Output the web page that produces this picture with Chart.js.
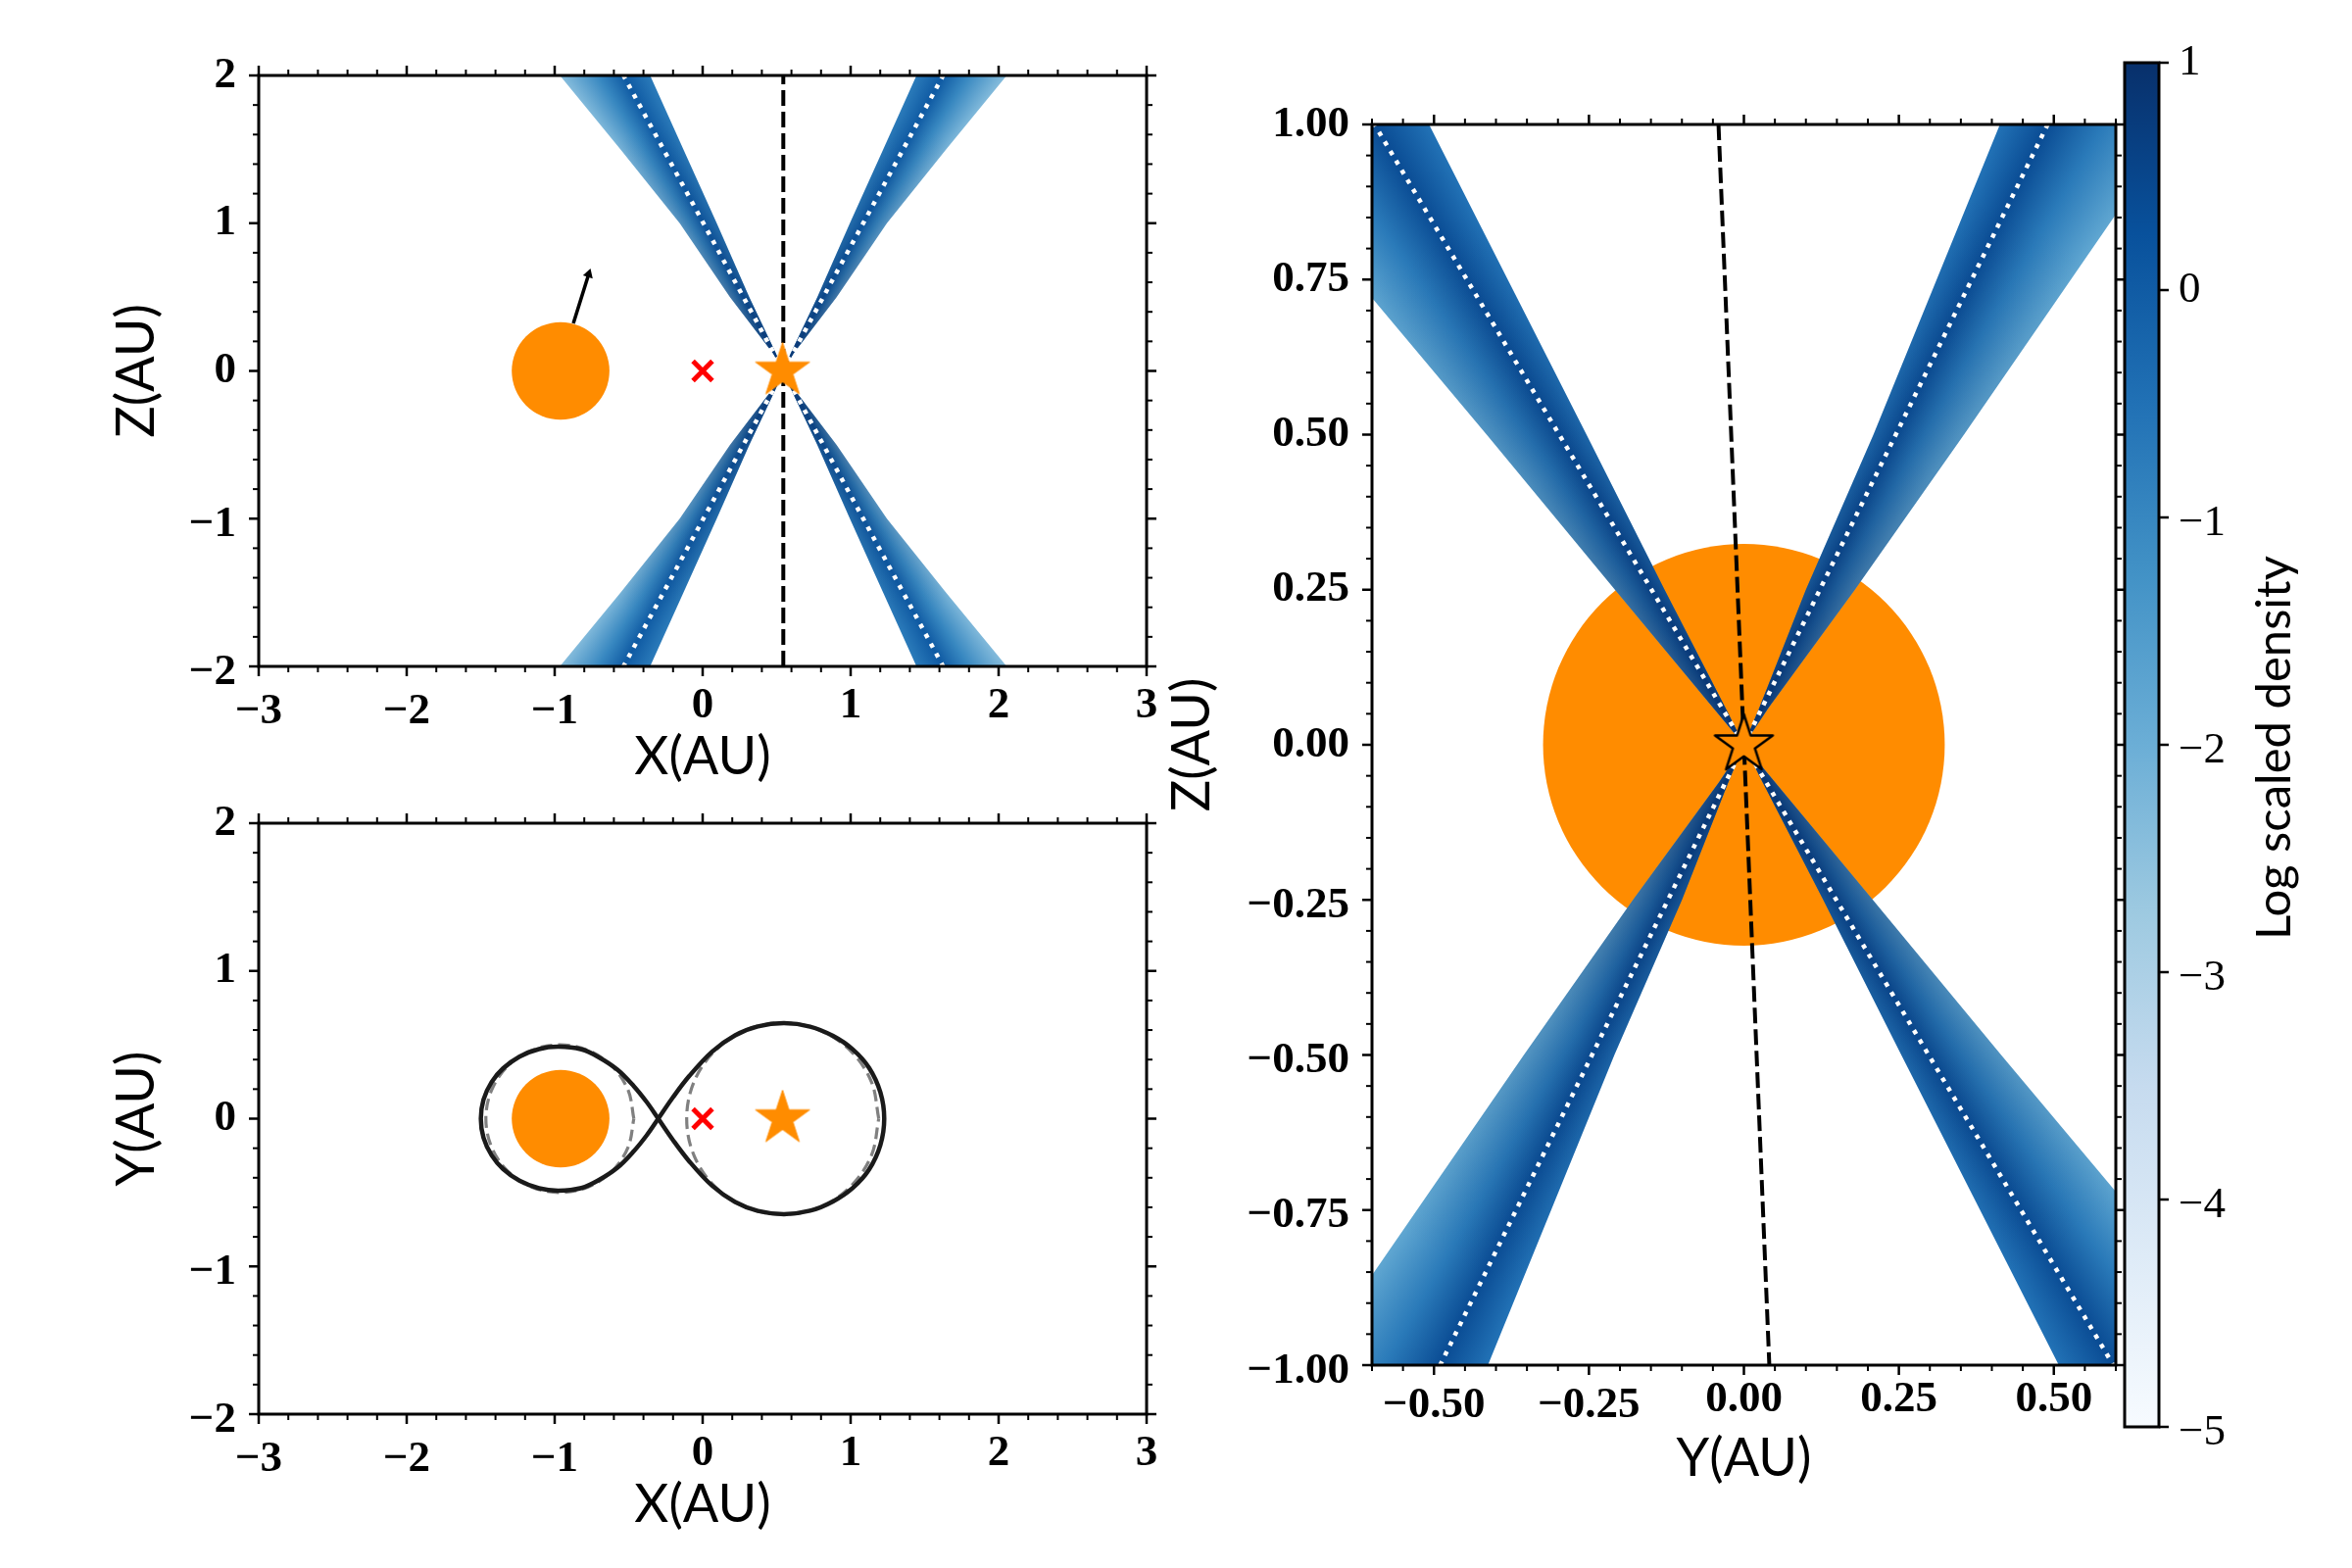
<!DOCTYPE html>
<html>
<head>
<meta charset="utf-8">
<title>Density panels</title>
<script src="https://cdn.jsdelivr.net/npm/chart.js@4"></script>
<style>
  body { margin: 0; background: #fff; }
  canvas { position: absolute; }
</style>
</head>
<body>
<canvas id="panel-xz"></canvas>
<canvas id="panel-xy"></canvas>
<canvas id="panel-yz"></canvas>
<canvas id="colorbar"></canvas>
<script>
// Tick values and labels
const sideXTicks = [-3, -2, -1, 0, 1, 2, 3];
const sideXLabels = ['−3', '−2', '−1', '0', '1', '2', '3'];
const sideYTicks = [-2, -1, 0, 1, 2];
const sideYLabels = ['−2', '−1', '0', '1', '2'];
const yzXTicks = [-0.5, -0.25, 0, 0.25, 0.5];
const yzXLabels = ['−0.50', '−0.25', '0.00', '0.25', '0.50'];
const yzYTicks = [-1, -0.75, -0.5, -0.25, 0, 0.25, 0.5, 0.75, 1];
const yzYLabels = ['−1.00', '−0.75', '−0.50', '−0.25', '0.00', '0.25', '0.50', '0.75', '1.00'];
const cbarTicks = [-5, -4, -3, -2, -1, 0, 1];
const cbarLabels = ['−5', '−4', '−3', '−2', '−1', '0', '1'];
const cbarTitle = 'Log scaled density';

// Bodies
const starX = 0.54;
const companionX = -0.96;
const companionRadius = 0.33;
const comX = 0;
const yzRadius = 0.324;
const arrowX = [-0.874, -0.77];
const arrowZ = [0.322, 0.655];

// Roche lobes, upper half
const leftLobeX = [-0.30, -0.377, -0.466, -0.576, -0.709, -0.819, -0.974, -1.106, -1.238, -1.349, -1.426, -1.481, -1.499];
const leftLobeY = [0, 0.111, 0.221, 0.332, 0.420, 0.469, 0.487, 0.471, 0.420, 0.340, 0.248, 0.129, 0];
const rightLobeX = [-0.30, -0.201, -0.091, 0.064, 0.219, 0.373, 0.550, 0.726, 0.881, 1.013, 1.124, 1.201, 1.227];
const rightLobeY = [0, 0.144, 0.288, 0.454, 0.564, 0.624, 0.646, 0.623, 0.560, 0.470, 0.345, 0.178, 0];

// Dashed circles, upper half
const leftCircleX = [-0.465, -0.503, -0.611, -0.774, -0.965, -1.156, -1.319, -1.427, -1.465];
const leftCircleY = [0, 0.191, 0.354, 0.462, 0.5, 0.462, 0.354, 0.191, 0];
const rightCircleX = [1.190, 1.141, 1.000, 0.789, 0.541, 0.293, 0.082, -0.059, -0.108];
const rightCircleY = [0, 0.248, 0.459, 0.600, 0.649, 0.600, 0.459, 0.248, 0];

// Outflow cone in the X-Z panel: distance from the star at each height
const sideZ = [0.12, 0.5, 1, 1.5, 2];
const sideInner = [0.05, 0.23, 0.45, 0.675, 0.90];
const sideOuter = [0.07, 0.36, 0.70, 1.10, 1.51];
const sideRays = [0.90, 1.08, 1.25, 1.51];
const sideColors = ['#2b7bba', '#0f5aa3', '#3787c0', '#85bcdc'];
const sideDot = 1.08;
const sideDashX = [0.545, 0.545];
const sideDashZ = [-2, 2];

// Cone in the Y-Z panel, two mirrored pairs of wedges
const yzZ = [0.06, 0.25, 0.5, 1];
const yzInnerA = [0.025, 0.10, 0.209, 0.413];
const yzOuterA = [0.04, 0.179, 0.355, 0.70];
const yzInnerB = [0.03, 0.128, 0.254, 0.508];
const yzOuterB = [0.05, 0.208, 0.415, 0.835];
const yzRaysA = [0.413, 0.49, 0.58, 0.70];
const yzRaysB = [0.508, 0.596, 0.70, 0.835];
const yzColors = ['#2272b6', '#0a4c94', '#2a7ab9', '#5fa6d1'];
const yzDotA = 0.49;
const yzDotB = 0.596;
const yzDashX = [-0.041, 0.041];
const yzDashZ = [1, -1];

// Colour bar (Blues)
const cbarStops = [-5, -4.25, -3.5, -2.75, -2, -1.25, -0.5, 0.25, 1];
const cbarColors = ['#f7fbff', '#deebf7', '#c6dbef', '#9ecae1', '#6baed6', '#4292c6', '#2171b5', '#08519c', '#08306b'];

const ORANGE = '#ff8c00';
const TICK_FONT = 'Liberation Serif';
const TITLE_FONT = 'Lato';

// Fill a dataset's points as a polygon, angular colours plus a dark core at the apex
const wedgePlugin = {
    id: 'wedge',
    beforeDatasetDraw(chart, args) {
        const wedge = chart.data.datasets[args.index].wedge;
        if (!wedge) return;
        const ctx = chart.ctx;
        const { x: xs, y: ys } = chart.scales;
        const area = chart.chartArea;
        const ax = xs.getPixelForValue(wedge.apexX);
        const ay = ys.getPixelForValue(0);
        const angles = wedge.rays.map(r => Math.atan2(
            ys.getPixelForValue(wedge.sz * wedge.far) - ay,
            xs.getPixelForValue(wedge.apexX + wedge.sx * r) - ax));
        const start = angles[0] - 1.2;
        const conic = ctx.createConicGradient(start, ax, ay);
        angles.forEach((a, i) => {
            let off = (a - start) % (2 * Math.PI);
            if (off < 0) off += 2 * Math.PI;
            conic.addColorStop(off / (2 * Math.PI), wedge.colors[i]);
        });
        const fadeR = Math.abs(xs.getPixelForValue(wedge.fade) - xs.getPixelForValue(0));
        const core = ctx.createRadialGradient(ax, ay, 0, ax, ay, fadeR);
        core.addColorStop(0, 'rgba(8,48,107,0.95)');
        core.addColorStop(0.12, 'rgba(8,48,107,0.7)');
        core.addColorStop(0.25, 'rgba(8,48,107,0.45)');
        core.addColorStop(0.45, 'rgba(8,48,107,0.2)');
        core.addColorStop(0.8, 'rgba(8,48,107,0)');

        ctx.save();
        ctx.beginPath();
        ctx.rect(area.left, area.top, area.width, area.height);
        ctx.clip();
        ctx.beginPath();
        args.meta.data.forEach((p, i) => (i ? ctx.lineTo(p.x, p.y) : ctx.moveTo(p.x, p.y)));
        ctx.closePath();
        ctx.fillStyle = conic;
        ctx.fill();
        ctx.fillStyle = core;
        ctx.fill();
        ctx.restore();
    }
};

// Spines and major/minor ticks on the chosen sides
const framePlugin = {
    id: 'frame',
    beforeDraw(chart) {
        // labels with a minus sit a little lower in the original
        if (chart.$labelsNudged) return;
        chart.$labelsNudged = true;
        Object.values(chart.scales).forEach(s => {
            if (!s.options.display) return;
            s.getLabelItems().forEach(item => {
                if (String(item.label).startsWith('−')) item.options.translation[1] += 6;
            });
        });
    },
    afterDraw(chart, args, opts) {
        const ctx = chart.ctx;
        const { left, right, top, bottom } = chart.chartArea;
        const isMajor = (v, list) => list.some(m => Math.abs(m - v) < 1e-6);
        ctx.save();
        ctx.strokeStyle = '#000';
        const tick = (x1, y1, x2, y2, w) => {
            ctx.lineWidth = w;
            ctx.beginPath();
            ctx.moveTo(x1, y1);
            ctx.lineTo(x2, y2);
            ctx.stroke();
        };
        if (opts.xMajor) {
            chart.scales.x.ticks.forEach(t => {
                const major = isMajor(t.value, opts.xMajor);
                const len = major ? 10 : 6;
                const w = major ? 2.5 : 2;
                const px = chart.scales.x.getPixelForValue(t.value);
                tick(px, bottom, px, bottom + len, w);
                tick(px, top, px, top - len, w);
            });
        }
        chart.scales.y.ticks.forEach(t => {
            const major = isMajor(t.value, opts.yMajor);
            const len = major ? 10 : 6;
            const w = major ? 2.5 : 2;
            const py = chart.scales.y.getPixelForValue(t.value);
            if (opts.xMajor) tick(left, py, left - len, py, w);
            tick(right, py, right + len, py, w);
        });
        ctx.lineWidth = 3;
        ctx.strokeRect(left, top, right - left, bottom - top);
        ctx.restore();
    }
};

// Rotated colour bar caption
const captionPlugin = {
    id: 'caption',
    afterDraw(chart) {
        const ctx = chart.ctx;
        const box = chart.canvas.getBoundingClientRect();
        ctx.save();
        ctx.translate(2337 - box.left, 763 - box.top);
        ctx.rotate(-Math.PI / 2);
        ctx.font = '49px ' + TITLE_FONT;
        ctx.fillStyle = '#000';
        ctx.textAlign = 'center';
        ctx.textBaseline = 'alphabetic';
        ctx.fillText(cbarTitle, 0, 0);
        ctx.restore();
    }
};

function starImage(radius, fill, stroke, lineWidth) {
    const c = document.createElement('canvas');
    const size = Math.ceil(radius * 2 + 8);
    c.width = size;
    c.height = size;
    const g = c.getContext('2d');
    g.translate(size / 2, size / 2);
    g.beginPath();
    for (let i = 0; i < 10; i++) {
        const r = i % 2 ? radius * 0.382 : radius;
        const a = -Math.PI / 2 + i * Math.PI / 5;
        g.lineTo(r * Math.cos(a), r * Math.sin(a));
    }
    g.closePath();
    g.fillStyle = fill;
    g.fill();
    g.lineJoin = 'round';
    g.lineWidth = lineWidth;
    g.strokeStyle = stroke;
    g.stroke();
    return c;
}

function zipPoints(xs, ys) {
    return xs.map((x, i) => ({ x: x, y: ys[i] }));
}

// Upper half plus its mirror image
function closedCurve(xs, ys) {
    const upper = zipPoints(xs, ys);
    const lower = upper.slice(0, -1).reverse().map(p => ({ x: p.x, y: -p.y }));
    return upper.concat(lower);
}

function wedgeDataset(apexX, sx, sz, zs, inner, outer, rays, colors, far, fade) {
    const pts = [{ x: apexX, y: 0 }];
    zs.forEach((z, i) => pts.push({ x: apexX + sx * inner[i], y: sz * z }));
    for (let i = zs.length - 1; i >= 0; i--) {
        pts.push({ x: apexX + sx * outer[i], y: sz * zs[i] });
    }
    return {
        data: pts,
        showLine: false,
        pointRadius: 0,
        wedge: { apexX, sx, sz, far, rays, colors, fade }
    };
}

function lineDataset(points, color, width, dash, tension) {
    return {
        data: points,
        showLine: true,
        pointRadius: 0,
        borderColor: color,
        borderWidth: width,
        borderDash: dash || [],
        tension: tension || 0
    };
}

function pointDataset(x, y, style, radius, color, borderWidth) {
    return {
        data: [{ x: x, y: y }],
        showLine: false,
        pointStyle: style,
        pointRadius: radius,
        pointBackgroundColor: color,
        pointBorderColor: color,
        pointBorderWidth: borderWidth || 0
    };
}

// Circle whose radius follows the x scale
function bodyDataset(x, radius) {
    const ds = pointDataset(x, 0, 'circle', c => {
        const s = c.chart.scales.x;
        return Math.abs(s.getPixelForValue(radius) - s.getPixelForValue(0));
    }, ORANGE);
    return ds;
}

function axisLabel(values, labels) {
    return function(v) {
        const i = values.findIndex(m => Math.abs(m - v) < 1e-6);
        return i < 0 ? '' : labels[i];
    };
}

function makePanel(id, plot, cfg, datasets) {
    const pad = { left: 20, top: 60, right: 40, bottom: 10 };
    const canvas = document.getElementById(id);
    canvas.width = plot.right - plot.left + pad.left + cfg.yWidth + pad.right;
    canvas.height = plot.bottom - plot.top + pad.top + cfg.xHeight + pad.bottom;
    canvas.style.left = (plot.left - pad.left - cfg.yWidth) + 'px';
    canvas.style.top = (plot.top - pad.top) + 'px';
    // first dataset in the list is painted first
    datasets.forEach((d, i) => { d.order = datasets.length - i; });
    const tickFont = { family: TICK_FONT, size: 45, weight: 'bold' };
    const titleFont = { family: TITLE_FONT, size: 54 };
    return new Chart(canvas, {
        type: 'scatter',
        data: { datasets: datasets },
        plugins: [wedgePlugin, framePlugin],
        options: {
            responsive: false,
            animation: false,
            devicePixelRatio: 1,
            layout: { padding: pad },
            plugins: {
                legend: { display: false },
                tooltip: { enabled: false },
                frame: { xMajor: cfg.xTicks, yMajor: cfg.yTicks }
            },
            scales: {
                x: {
                    min: cfg.xMin, max: cfg.xMax,
                    afterFit: s => { s.height = cfg.xHeight; },
                    grid: { display: false, tickLength: 10 },
                    border: { display: false },
                    title: { display: true, text: cfg.xTitle, font: titleFont, color: '#000', padding: 0 },
                    ticks: {
                        stepSize: cfg.xStep, autoSkip: false, maxRotation: 0, minRotation: 0, padding: cfg.xLabelPad,
                        color: '#000', font: tickFont, callback: axisLabel(cfg.xTicks, cfg.xLabels)
                    }
                },
                y: {
                    min: cfg.yMin, max: cfg.yMax,
                    afterFit: s => { s.width = cfg.yWidth; },
                    grid: { display: false, tickLength: 10 },
                    border: { display: false },
                    title: { display: true, text: cfg.yTitle, font: titleFont, color: '#000', padding: 0 },
                    ticks: {
                        stepSize: cfg.yStep, autoSkip: false, padding: 13,
                        color: '#000', font: tickFont, callback: axisLabel(cfg.yTicks, cfg.yLabels)
                    }
                }
            }
        }
    });
}

function makeColorbar() {
    const canvas = document.getElementById('colorbar');
    const rect = { left: 2168, right: 2203, top: 64, bottom: 1456 };
    const pad = { left: 20, top: 60, right: 45, bottom: 60 };
    const axisWidth = 150;
    canvas.width = rect.right - rect.left + pad.left + pad.right + axisWidth;
    canvas.height = rect.bottom - rect.top + pad.top + pad.bottom;
    canvas.style.left = (rect.left - pad.left) + 'px';
    canvas.style.top = (rect.top - pad.top) + 'px';
    return new Chart(canvas, {
        type: 'bar',
        data: {
            labels: [''],
            datasets: [{
                data: [[cbarTicks[0], cbarTicks[cbarTicks.length - 1]]],
                barPercentage: 1,
                categoryPercentage: 1,
                backgroundColor: c => {
                    const area = c.chart.chartArea;
                    if (!area) return cbarColors[0];
                    const g = c.chart.ctx.createLinearGradient(0, area.bottom, 0, area.top);
                    cbarStops.forEach((v, i) => g.addColorStop((v + 5) / 6, cbarColors[i]));
                    return g;
                }
            }]
        },
        plugins: [framePlugin, captionPlugin],
        options: {
            responsive: false,
            animation: false,
            devicePixelRatio: 1,
            layout: { padding: pad },
            plugins: {
                legend: { display: false },
                tooltip: { enabled: false },
                frame: { yMajor: cbarTicks }
            },
            scales: {
                x: { display: false },
                y: {
                    position: 'right',
                    min: -5, max: 1,
                    afterFit: s => { s.width = axisWidth; },
                    grid: { display: false, tickLength: 10 },
                    border: { display: false },
                    ticks: {
                        stepSize: 1, padding: 10, color: '#000',
                        font: { family: TICK_FONT, size: 45 },
                        callback: axisLabel(cbarTicks, cbarLabels)
                    }
                }
            }
        }
    });
}

const sideAxes = {
    xMin: -3, xMax: 3, xStep: 0.2, xTicks: sideXTicks, xLabels: sideXLabels,
    yMin: -2, yMax: 2, yStep: 0.2, yTicks: sideYTicks, yLabels: sideYLabels,
    yWidth: 157, xHeight: 125, xLabelPad: 3
};

function crossDataset() {
    return pointDataset(comX, 0, 'crossRot', 14, 'red', 5);
}

function sideWedges() {
    return [[1, 1], [-1, 1], [1, -1], [-1, -1]].map(s =>
        wedgeDataset(sideDashX[0], s[0], s[1], sideZ, sideInner, sideOuter, sideRays, sideColors, 2, 2.4));
}

function sideDots() {
    return [[1, 1], [-1, 1], [1, -1], [-1, -1]].map(s =>
        lineDataset([{ x: sideDashX[0], y: 0 }, { x: sideDashX[0] + s[0] * sideDot, y: s[1] * sideZ[4] }],
            '#fff', 4.5, [4.5, 6.8]));
}

// X-Z panel
makePanel('panel-xz', { left: 264, right: 1170, top: 77, bottom: 680 },
    Object.assign({ xTitle: 'X(AU)', yTitle: 'Z(AU)' }, sideAxes),
    [].concat(
        sideWedges(),
        sideDots(),
        [
            lineDataset(zipPoints(sideDashX, sideDashZ), '#000', 4, [16, 6]),
            bodyDataset(companionX, companionRadius),
            pointDataset(starX, 0, starImage(29, ORANGE, ORANGE, 1), 29, ORANGE),
            crossDataset(),
            Object.assign(lineDataset(zipPoints(arrowX, arrowZ), '#000', 3.5), {
                pointStyle: 'triangle',
                pointRadius: [0, 6],
                pointRotation: 17.5,
                pointBackgroundColor: '#000',
                pointBorderColor: '#000',
                pointBorderWidth: 0
            })
        ]
    ));

// X-Y panel
makePanel('panel-xy', { left: 264, right: 1170, top: 840, bottom: 1443 },
    Object.assign({ xTitle: 'X(AU)', yTitle: 'Y(AU)' }, sideAxes),
    [
        lineDataset(closedCurve(leftCircleX, leftCircleY), '#808080', 3.2, [12, 6], 0.35),
        lineDataset(closedCurve(rightCircleX, rightCircleY), '#808080', 3.2, [12, 6], 0.35),
        lineDataset(closedCurve(leftLobeX, leftLobeY), '#1a1a1a', 4.5, [], 0.35),
        lineDataset(closedCurve(rightLobeX, rightLobeY), '#1a1a1a', 4.5, [], 0.35),
        bodyDataset(companionX, companionRadius),
        pointDataset(starX, 0, starImage(29, ORANGE, ORANGE, 1), 29, ORANGE),
        crossDataset()
    ]);

// Y-Z panel
makePanel('panel-yz', { left: 1400, right: 2159, top: 127, bottom: 1393 },
    {
        xMin: -0.6, xMax: 0.6, xStep: 0.05, xTicks: yzXTicks, xLabels: yzXLabels, xTitle: 'Y(AU)',
        yMin: -1, yMax: 1, yStep: 0.05, yTicks: yzYTicks, yLabels: yzYLabels, yTitle: 'Z(AU)',
        yWidth: 216, xHeight: 128, xLabelPad: -2
    },
    [
        bodyDataset(0, yzRadius),
        wedgeDataset(0, 1, 1, yzZ, yzInnerA, yzOuterA, yzRaysA, yzColors, 1, 1.2),
        wedgeDataset(0, -1, -1, yzZ, yzInnerA, yzOuterA, yzRaysA, yzColors, 1, 1.2),
        wedgeDataset(0, -1, 1, yzZ, yzInnerB, yzOuterB, yzRaysB, yzColors, 1, 1.2),
        wedgeDataset(0, 1, -1, yzZ, yzInnerB, yzOuterB, yzRaysB, yzColors, 1, 1.2),
        lineDataset([{ x: 0, y: 0 }, { x: yzDotA, y: 1 }], '#fff', 4.5, [4.5, 6.8]),
        lineDataset([{ x: 0, y: 0 }, { x: -yzDotA, y: -1 }], '#fff', 4.5, [4.5, 6.8]),
        lineDataset([{ x: 0, y: 0 }, { x: -yzDotB, y: 1 }], '#fff', 4.5, [4.5, 6.8]),
        lineDataset([{ x: 0, y: 0 }, { x: yzDotB, y: -1 }], '#fff', 4.5, [4.5, 6.8]),
        lineDataset(zipPoints(yzDashX, yzDashZ), '#000', 4, [16, 6]),
        pointDataset(0, 0, starImage(31, ORANGE, '#000', 2.5), 31, ORANGE)
    ]);

makeColorbar();
</script>
</body>
</html>
